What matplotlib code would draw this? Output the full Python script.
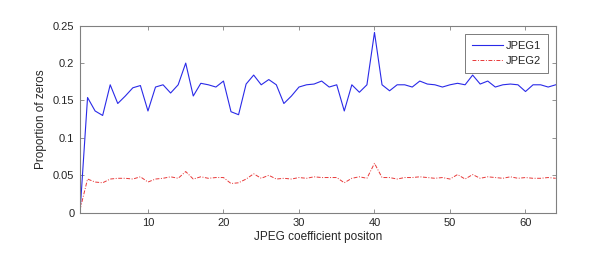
import matplotlib
matplotlib.use("Agg")
import matplotlib.pyplot as plt
import numpy as np

plt.rcParams['font.family'] = ['Liberation Sans', 'DejaVu Sans']

positions = list(range(1, 65))
jpeg1 = [0.0, 0.154, 0.136, 0.130, 0.171, 0.146, 0.156, 0.167, 0.170, 0.136,
         0.168, 0.171, 0.160, 0.171, 0.200, 0.156, 0.173, 0.171, 0.168, 0.176,
         0.135, 0.131, 0.172, 0.184, 0.171, 0.178, 0.171, 0.146, 0.156, 0.168,
         0.171, 0.172, 0.176, 0.168, 0.171, 0.136, 0.171, 0.161, 0.171, 0.241,
         0.171, 0.163, 0.171, 0.171, 0.168, 0.176, 0.172, 0.171, 0.168, 0.171,
         0.173, 0.171, 0.184, 0.172, 0.176, 0.168, 0.171, 0.172, 0.171, 0.162,
         0.171, 0.171, 0.168, 0.171]
jpeg2 = [0.004, 0.045, 0.041, 0.040, 0.045, 0.046, 0.046, 0.045, 0.048, 0.041,
         0.045, 0.046, 0.048, 0.046, 0.055, 0.045, 0.048, 0.046, 0.047, 0.047,
         0.039, 0.040, 0.045, 0.052, 0.046, 0.050, 0.045, 0.046, 0.045, 0.047,
         0.046, 0.048, 0.047, 0.047, 0.047, 0.040, 0.046, 0.048, 0.046, 0.066,
         0.047, 0.047, 0.045, 0.047, 0.047, 0.048, 0.047, 0.046, 0.047, 0.045,
         0.051, 0.045, 0.051, 0.046, 0.048, 0.047, 0.046, 0.048, 0.046, 0.047,
         0.046, 0.046, 0.047, 0.046]
series_names = ['JPEG1', 'JPEG2']
xlabel = 'JPEG coefficient positon'
ylabel = 'Proportion of zeros'

fig = plt.figure(figsize=(5.92, 2.54), dpi=100)
ax = fig.add_axes([80/592, 1 - 212.7/254, (555.7-80)/592, (212.7-25.7)/254])

ax.plot(positions, jpeg1, color='#2a2ae8', lw=0.8, label=series_names[0])
ax.plot(positions, jpeg2, color='#e83838', lw=0.7, dashes=(4, 1.6, 1, 1.6),
        label=series_names[1])

ax.set_xlim(1, 64)
ax.set_ylim(0, 0.25)
ax.set_xticks([10, 20, 30, 40, 50, 60])
ax.set_yticks([0, 0.05, 0.1, 0.15, 0.2, 0.25])
ax.set_yticklabels(['0', '0.05', '0.1', '0.15', '0.2', '0.25'])

edge = '#262626'
for s in ax.spines.values():
    s.set_color('#808080')
    s.set_linewidth(0.8)
ax.tick_params(direction='in', top=True, right=True, length=3, width=0.6,
               colors='#808080', labelcolor=edge, labelsize=8, pad=4)

ax.set_xlabel(xlabel, fontsize=8.5, color=edge, labelpad=2)
ax.set_ylabel(ylabel, fontsize=8.5, color=edge, labelpad=4)

leg = ax.legend(loc='upper right', fontsize=8, frameon=True, fancybox=False,
                edgecolor='#404040', handlelength=2.8, borderpad=0.6,
                labelspacing=0.5, handletextpad=0.3, borderaxespad=0.0,
                bbox_to_anchor=(0.984, 0.956))
leg.get_frame().set_linewidth(0.6)
for t in leg.get_texts():
    t.set_color(edge)

fig.savefig('out.png', dpi=100)
